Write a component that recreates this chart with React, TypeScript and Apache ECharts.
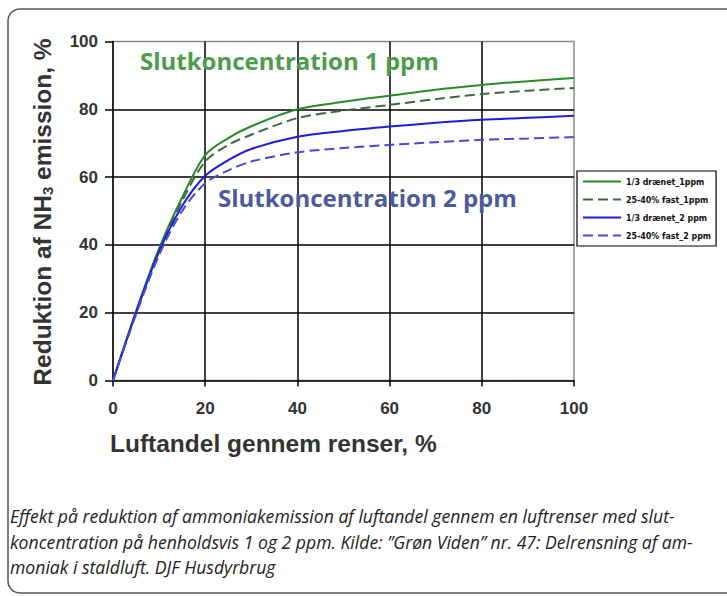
import React, { useEffect, useRef } from "react";
import * as echarts from "echarts";

const xValues = [0, 5, 10, 15, 20, 25, 30, 40, 50, 60, 70, 80, 90, 100];
const greenSolid = [0, 20.5, 39, 54, 66.5, 71.5, 75, 80, 82.2, 84, 85.8, 87.2, 88.3, 89.2];
const greenDashed = [0, 20, 38.5, 53, 64.6, 69.5, 72.5, 77.4, 79.6, 81.3, 83, 84.5, 85.5, 86.3];
const blueSolid = [0, 20, 38, 51.5, 60.4, 65, 68.3, 71.9, 73.6, 74.9, 76, 76.9, 77.5, 78.1];
const blueDashed = [0, 19.5, 37, 50, 58.2, 62, 64.6, 67.3, 68.6, 69.5, 70.3, 71, 71.4, 71.8];
const seriesNames = ["1/3 drænet_1ppm", "25-40% fast_1ppm", "1/3 drænet_2 ppm", "25-40% fast_2 ppm"];
const captionLines = [
  "Effekt på reduktion af ammoniakemission af luftandel gennem en luftrenser med slut-",
  "koncentration på henholdsvis 1 og 2 ppm. Kilde: \u201dGrøn Viden\u201d nr. 47: Delrensning af am-",
  "moniak i staldluft. DJF Husdyrbrug",
];

const pairs = (ys: number[]) => xValues.map((x, i) => [x, ys[i]]);

export default function App() {
  const ref = useRef<HTMLDivElement>(null);
  useEffect(() => {
    if (!ref.current) return;
    const chart = echarts.init(ref.current, undefined, { renderer: "svg" });
    const mk = (name: string, data: number[], color: string, dashed: boolean) => ({
      name,
      type: "line",
      data: pairs(data),
      symbol: "none",
      smooth: 0.3,
      lineStyle: { color, width: 2, type: dashed ? [10, 5] : "solid" },
      itemStyle: { color },
    });
    chart.setOption({
      animation: false,
      backgroundColor: "#ffffff",
      grid: {
        left: 113,
        top: 41.5,
        width: 461,
        height: 339,
        show: true,
        borderColor: "#8a8a8a",
        borderWidth: 1.5,
        backgroundColor: "transparent",
      },
      xAxis: {
        type: "value",
        min: 0,
        max: 100,
        interval: 20,
        axisLine: { show: true, lineStyle: { color: "#000", width: 1.5 } },
        axisTick: { show: true, length: 6, lineStyle: { color: "#000", width: 1.5 } },
        axisLabel: { color: "#333", fontSize: 17, fontWeight: "bold", fontFamily: "Liberation Sans", margin: 19 },
        splitLine: { show: true, showMinLine: false, showMaxLine: false, lineStyle: { color: "#000", width: 1.5 } },
      },
      yAxis: {
        type: "value",
        min: 0,
        max: 100,
        interval: 20,
        axisLine: { show: true, lineStyle: { color: "#000", width: 1.5 } },
        axisTick: { show: true, length: 8, lineStyle: { color: "#000", width: 1.5 } },
        axisLabel: { color: "#333", fontSize: 17, fontWeight: "bold", fontFamily: "Liberation Sans", margin: 15 },
        splitLine: { show: true, showMinLine: false, showMaxLine: false, lineStyle: { color: "#000", width: 1.5 } },
      },
      legend: {
        data: seriesNames,
        orient: "vertical",
        left: 577,
        top: 171,
        backgroundColor: "#fff",
        borderColor: "#000",
        borderWidth: 1.2,
        padding: [6, 5, 6, 5],
        itemWidth: 38,
        itemHeight: 8,
        itemGap: 9,
        itemStyle: { opacity: 0 },
        lineStyle: { opacity: 1 },
        textStyle: {
          fontSize: 8.8,
          fontWeight: "bold",
          color: "#111",
          fontFamily: "Liberation Sans Narrow, DejaVu Sans Condensed, sans-serif",
        },
      },
      series: [
        mk(seriesNames[0], greenSolid, "#2a8a2a", false),
        mk(seriesNames[1], greenDashed, "#3d6b3d", true),
        mk(seriesNames[2], blueSolid, "#1c1ce0", false),
        mk(seriesNames[3], blueDashed, "#4848d6", true),
      ],
      graphic: [
        {
          type: "rect",
          silent: true,
          shape: { x: 8, y: 9, width: 740, height: 584, r: 12 },
          style: { fill: "none", stroke: "#555", lineWidth: 1.5 },
          z: 0,
        },
        {
          type: "text",
          x: 140,
          y: 60,
          style: {
            text: "Slutkoncentration 1 ppm",
            fill: "#4b9c4b",
            font: "bold 24px 'Open Sans', sans-serif",
            textVerticalAlign: "middle",
          },
          z: 10,
        },
        {
          type: "text",
          x: 218,
          y: 197,
          style: {
            text: "Slutkoncentration 2 ppm",
            fill: "#4b5a9e",
            font: "bold 24px 'Open Sans', sans-serif",
            textVerticalAlign: "middle",
          },
          z: 10,
        },
        {
          type: "text",
          x: 42,
          y: 212,
          rotation: Math.PI / 2,
          style: {
            text: "{a|Reduktion af NH}{s|3}{a| emission, %}",
            textAlign: "center",
            textVerticalAlign: "middle",
            rich: {
              a: { fontSize: 24.5, fontWeight: "bold", fontFamily: "Liberation Sans", fill: "#333", color: "#333" },
              s: {
                fontSize: 15,
                fontWeight: "bold",
                fontFamily: "Liberation Sans",
                fill: "#333",
                color: "#333",
                verticalAlign: "bottom",
                padding: [9, 0, 0, 0],
              },
            },
          },
        },
        {
          type: "text",
          x: 110,
          y: 443,
          style: {
            text: "Luftandel gennem renser, %",
            fill: "#333",
            font: "bold 24.5px 'Liberation Sans', sans-serif",
            textVerticalAlign: "middle",
          },
        },
        ...captionLines.map((line, i) => ({
          type: "text",
          x: 10,
          y: 516 + i * 25.5,
          style: {
            text: line,
            fill: "#222",
            font: "italic 17.6px 'Open Sans', sans-serif",
            textVerticalAlign: "middle",
          },
        })),
      ],
    });
    return () => chart.dispose();
  }, []);
  return <div ref={ref} style={{ position: "absolute", left: 0, top: 0, width: 727, height: 596 }} />;
}
